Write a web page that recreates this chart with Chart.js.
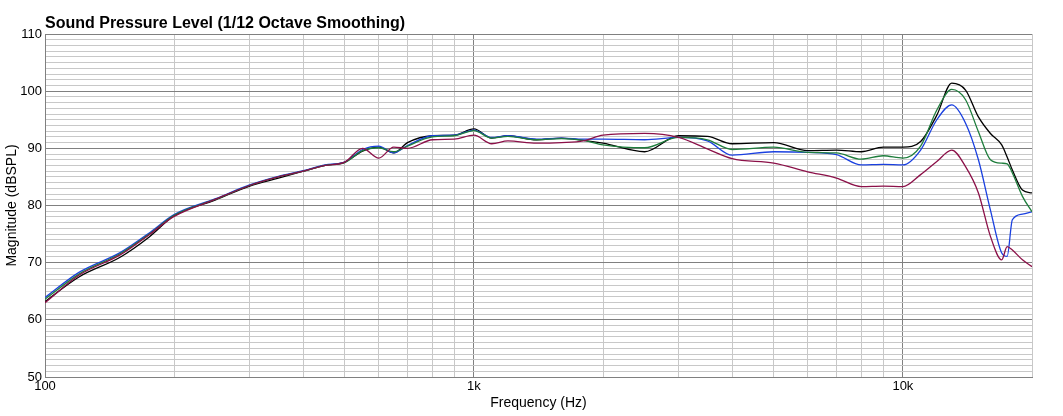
<!DOCTYPE html>
<html>
<head>
<meta charset="utf-8">
<script src="https://cdn.jsdelivr.net/npm/chart.js@4"></script>
<style>
  body { margin: 0; background: #fff; }
  #wrap { width: 1063px; height: 416px; position: relative; }
</style>
</head>
<body>
<div id="wrap"><canvas id="spl"></canvas></div>
<script>
const freqs = [100, 120, 150, 175, 200, 250, 300, 350, 400, 450, 500, 550, 600, 650, 700, 800, 900, 1000, 1100, 1200, 1400, 1600, 1800, 2000, 2500, 3000, 3500, 4000, 5000, 6000, 7000, 8000, 9000, 10000, 11000, 12000, 13000, 14000, 15000, 16000, 17000, 17500, 18000, 19000, 20000];

const black  = [63.2, 67.5, 71.0, 74.5, 78.2, 81.0, 83.4, 84.8, 86.0, 87.0, 87.6, 89.5, 90.2, 89.2, 91.0, 92.2, 92.3, 93.4, 91.8, 92.2, 91.5, 91.8, 91.4, 90.9, 89.4, 92.2, 92.1, 90.8, 91.0, 89.6, 89.7, 89.4, 90.2, 90.2, 91.2, 95.8, 101.4, 100.2, 95.5, 92.6, 90.6, 88.5, 86.2, 82.7, 82.2];
const green  = [63.6, 68.0, 71.6, 75.0, 78.3, 81.1, 83.5, 85.0, 86.0, 87.0, 87.5, 89.6, 90.1, 89.4, 90.4, 92.0, 92.2, 93.1, 91.8, 92.1, 91.5, 91.7, 91.4, 90.6, 90.1, 91.9, 91.5, 89.8, 90.2, 89.3, 89.2, 88.1, 88.7, 88.3, 90.4, 96.7, 100.3, 98.5, 92.9, 88.0, 87.4, 87.3, 85.7, 81.6, 78.9];
const blue   = [63.9, 68.3, 71.8, 75.2, 78.4, 81.2, 83.6, 85.1, 86.1, 87.1, 87.6, 89.8, 90.4, 89.2, 90.5, 92.2, 92.3, 93.2, 91.9, 92.2, 91.6, 91.8, 91.6, 91.6, 91.5, 91.9, 91.3, 88.8, 89.4, 89.3, 88.9, 87.1, 87.2, 87.1, 89.7, 95.0, 97.6, 94.4, 88.0, 79.2, 71.7, 71.1, 77.5, 78.5, 78.9];
const purple = [63.0, 67.8, 71.4, 74.9, 78.1, 81.1, 83.5, 85.0, 86.0, 87.0, 87.6, 90.0, 88.3, 90.2, 90.0, 91.5, 91.6, 92.3, 90.8, 91.3, 90.9, 91.0, 91.3, 92.3, 92.6, 91.9, 89.9, 88.2, 87.4, 85.9, 84.8, 83.3, 83.4, 83.3, 85.4, 87.7, 89.7, 86.8, 82.2, 74.6, 70.5, 72.8, 72.2, 70.5, 69.3];

const xTicks = [100, 200, 300, 400, 500, 600, 700, 800, 900, 1000, 2000, 3000, 4000, 5000, 6000, 7000, 8000, 9000, 10000, 20000];
const xLabels = { 100: '100', 1000: '1k', 10000: '10k' };

function series(vals, color) {
    return {
        data: freqs.map((f, i) => ({ x: f, y: vals[i] })),
        borderColor: color,
        borderWidth: 1.3,
        pointRadius: 0,
        cubicInterpolationMode: 'monotone',
        fill: false
    };
}

const font = 'Liberation Sans, Arial, sans-serif';

new Chart(document.getElementById('spl'), {
    type: 'line',
    data: {
        datasets: [
            series(purple, '#8b1048'),
            series(green, '#1e7d3c'),
            series(blue, '#1a40e0'),
            series(black, '#000000')
        ]
    },
    options: {
        responsive: true,
        maintainAspectRatio: false,
        animation: false,
        layout: { padding: { top: 34, right: 31, left: 0, bottom: 0 } },
        plugins: {
            legend: { display: false },
            tooltip: { enabled: false }
        },
        scales: {
            x: {
                type: 'logarithmic',
                min: 100,
                max: 20000,
                afterBuildTicks(axis) { axis.ticks = xTicks.map(v => ({ value: v })); },
                afterFit(axis) { axis.height = 39; },
                ticks: {
                    autoSkip: false,
                    maxRotation: 0,
                    padding: 2,
                    color: '#000',
                    font: { family: font, size: 13 },
                    callback: v => xLabels[v] || ''
                },
                grid: {
                    color: c => xLabels[c.tick.value] ? '#808080' : '#c8c8c8',
                    lineWidth: 1,
                    drawTicks: false
                },
                border: { color: '#808080' },
                title: {
                    display: true,
                    text: 'Frequency (Hz)',
                    color: '#000',
                    font: { family: font, size: 14 },
                    padding: { top: 0 }
                }
            },
            y: {
                min: 50,
                max: 110,
                afterFit(axis) { axis.width = 45; },
                ticks: {
                    stepSize: 1,
                    autoSkip: false,
                    padding: 3,
                    color: '#000',
                    font: { family: font, size: 13 },
                    callback: v => v % 10 === 0 ? String(v) : ''
                },
                grid: {
                    color: c => c.tick.value % 10 === 0 ? '#808080' : '#c8c8c8',
                    lineWidth: 1,
                    drawTicks: false
                },
                border: { color: '#808080' },
                title: {
                    display: true,
                    text: 'Magnitude (dBSPL)',
                    color: '#000',
                    font: { family: font, size: 14 },
                    padding: { bottom: 2 }
                }
            }
        }
    },
    plugins: [{
        id: 'topTitle',
        afterDraw(chart) {
            const { ctx, chartArea } = chart;
            ctx.save();
            ctx.fillStyle = '#000';
            ctx.font = 'bold 16px ' + font;
            ctx.textAlign = 'left';
            ctx.textBaseline = 'bottom';
            ctx.fillText('Sound Pressure Level (1/12 Octave Smoothing)', chartArea.left, chartArea.top - 2);
            ctx.restore();
        }
    }]
});
</script>
</body>
</html>
